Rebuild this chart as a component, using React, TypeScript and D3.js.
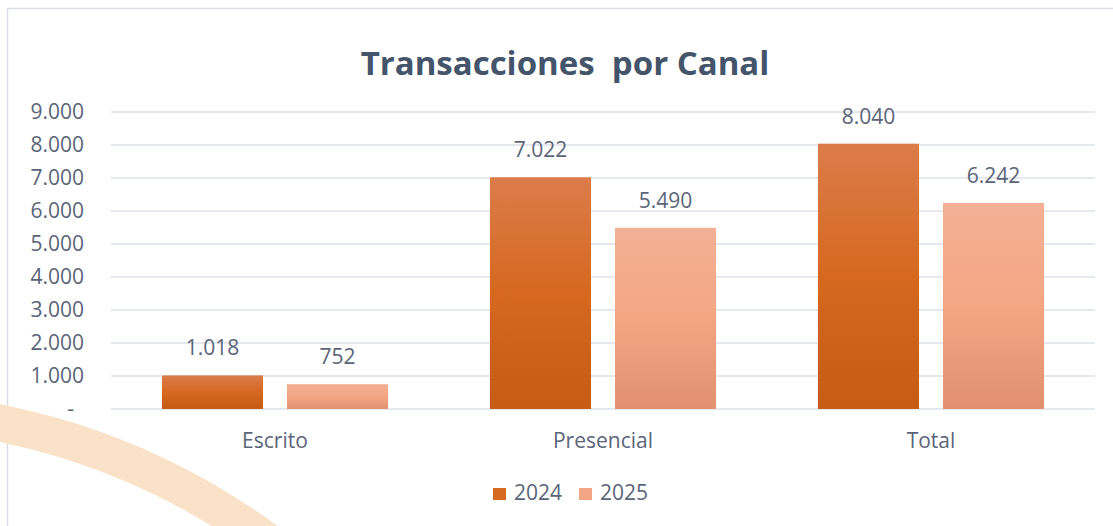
import React from "react";
import * as d3 from "d3";

const categories = ["Escrito", "Presencial", "Total"];
const seriesNames = ["2024", "2025"];
const values2024 = [1018, 7022, 8040];
const values2025 = [752, 5490, 6242];
const yTicks = [0, 1000, 2000, 3000, 4000, 5000, 6000, 7000, 8000, 9000];

const W = 1113;
const H = 526;
const plotLeft = 111;
const plotRight = 1095;
const plotTop = 112;
const plotBottom = 409;

const fmt = (v: number) => (v === 0 ? "-" : d3.format(",")(v).replace(/,/g, "."));

export default function App() {
  const x0 = d3
    .scaleBand<string>()
    .domain(categories)
    .range([plotLeft, plotRight])
    .paddingInner(0.311)
    .paddingOuter(0.1555);
  const x1 = d3
    .scaleBand<string>()
    .domain(seriesNames)
    .range([0, x0.bandwidth()])
    .paddingInner(0.192);
  const y = d3.scaleLinear().domain([0, 9000]).range([plotBottom, plotTop]);

  const seriesValues = [values2024, values2025];
  const gradIds = ["g2024", "g2025"];
  const legendColors = ["#D5691F", "#F4A584"];
  const textColor = "#5B6579";
  const font = "'Open Sans', 'Noto Sans', sans-serif";
  const fs = 21;

  // decorative arc
  const cx = -132, cy = 1082, r = 672;
  const arcPath = d3.arc()({
    innerRadius: r - 18.5,
    outerRadius: r + 18.5,
    startAngle: -0.3,
    endAngle: 0.9,
  } as any) as string;

  return (
    <svg
      width={W}
      height={H}
      style={{ position: "absolute", left: 0, top: 0, background: "#fff" }}
      fontFamily={font}
    >
      <defs>
        <linearGradient id="g2024" x1="0" y1="0" x2="0" y2="1">
          <stop offset="0" stopColor="#DB7C4A" />
          <stop offset="0.5" stopColor="#D66820" />
          <stop offset="1" stopColor="#C65B14" />
        </linearGradient>
        <linearGradient id="g2025" x1="0" y1="0" x2="0" y2="1">
          <stop offset="0" stopColor="#F3B095" />
          <stop offset="0.5" stopColor="#F4A683" />
          <stop offset="1" stopColor="#E29070" />
        </linearGradient>
      </defs>
      <rect x={7.5} y={8.5} width={W + 20} height={H + 20} fill="#fff" stroke="#DADDE3" strokeWidth={1.5} />
      <path d={arcPath} transform={`translate(${cx},${cy})`} fill="#FAE2C8" />

      <text
        x={565}
        y={75}
        textAnchor="middle"
        fontSize={33}
        fontWeight={700}
        fill="#44546A"
        style={{ whiteSpace: "pre" }}
      >
        {"Transacciones  por Canal"}
      </text>

      {yTicks.map((t) => (
        <g key={t}>
          <line x1={plotLeft} x2={plotRight} y1={y(t)} y2={y(t)} stroke="#DDE1EA" strokeWidth={1.3} />
          <text x={t === 0 ? 74 : 84} y={y(t) + 7} textAnchor="end" fontSize={fs} fill={textColor}>
            {fmt(t)}
          </text>
        </g>
      ))}

      {categories.map((c, ci) => (
        <g key={c} transform={`translate(${x0(c)},0)`}>
          {seriesNames.map((s, si) => {
            const v = seriesValues[si][ci];
            const bx = x1(s)!;
            const bw = x1.bandwidth();
            return (
              <g key={s}>
                <rect x={bx} y={y(v)} width={bw} height={plotBottom - y(v)} fill={`url(#${gradIds[si]})`} />
                <text x={bx + bw / 2} y={y(v) - 20} textAnchor="middle" fontSize={fs} fill={textColor}>
                  {fmt(v)}
                </text>
              </g>
            );
          })}
          <text x={x0.bandwidth() / 2} y={447.5} textAnchor="middle" fontSize={fs} fill={textColor}>
            {c}
          </text>
        </g>
      ))}

      {seriesNames.map((s, si) => {
        const lx = 493 + si * 86;
        return (
          <g key={s}>
            <rect x={lx} y={488} width={13} height={12} fill={legendColors[si]} />
            <text x={lx + 21} y={500} fontSize={fs} fill={textColor}>
              {s}
            </text>
          </g>
        );
      })}
    </svg>
  );
}
